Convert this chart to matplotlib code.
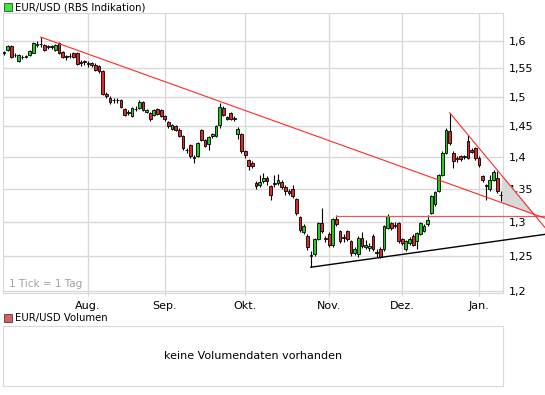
import matplotlib
matplotlib.use("Agg")
import matplotlib.pyplot as plt
from matplotlib.patches import Rectangle
from matplotlib.ticker import FixedLocator, NullLocator
import numpy as np

# Tageskerzen EUR/USD (Handelstage, Index 0 = Anfang Juli)
opens = [1.577, 1.583, 1.591, 1.574, 1.563, 1.570, 1.570, 1.574, 1.578, 1.593,
         1.594, 1.593, 1.589, 1.589, 1.584, 1.596, 1.580, 1.571, 1.572, 1.577,
         1.577, 1.560, 1.562, 1.558, 1.559, 1.557, 1.555, 1.545, 1.506, 1.499,
         1.494, 1.494, 1.495, 1.479, 1.473, 1.468, 1.479, 1.481, 1.491, 1.474,
         1.472, 1.470, 1.479, 1.478, 1.467, 1.457, 1.446, 1.450, 1.445, 1.434,
         1.411, 1.419, 1.399, 1.402, 1.444, 1.428, 1.421, 1.434, 1.435, 1.453,
         1.482, 1.466, 1.473, 1.463, 1.437, 1.438, 1.409, 1.395, 1.391, 1.359,
         1.355, 1.362, 1.367, 1.354, 1.358, 1.359, 1.361, 1.353, 1.347, 1.349,
         1.334, 1.307, 1.284, 1.279, 1.250, 1.252, 1.274, 1.298, 1.274, 1.282,
         1.266, 1.304, 1.286, 1.276, 1.286, 1.271, 1.254, 1.252, 1.276, 1.262,
         1.261, 1.279, 1.254, 1.260, 1.259, 1.291, 1.298, 1.294, 1.298, 1.274,
         1.259, 1.269, 1.279, 1.271, 1.282, 1.286, 1.296, 1.313, 1.326, 1.347,
         1.372, 1.407, 1.442, 1.407, 1.397, 1.402, 1.400, 1.426, 1.412, 1.415,
         1.399, 1.370, 1.354, 1.349, 1.364, 1.367, 1.340]
closes = [1.579, 1.591, 1.571, 1.575, 1.574, 1.571, 1.573, 1.581, 1.596, 1.594,
          1.595, 1.584, 1.590, 1.590, 1.593, 1.578, 1.571, 1.572, 1.573, 1.571,
          1.558, 1.561, 1.563, 1.559, 1.556, 1.548, 1.545, 1.506, 1.501, 1.491,
          1.495, 1.495, 1.483, 1.470, 1.474, 1.481, 1.480, 1.492, 1.478, 1.478,
          1.462, 1.478, 1.471, 1.468, 1.462, 1.450, 1.452, 1.445, 1.435, 1.415,
          1.412, 1.402, 1.400, 1.423, 1.428, 1.418, 1.433, 1.437, 1.451, 1.483,
          1.470, 1.463, 1.463, 1.464, 1.446, 1.410, 1.404, 1.385, 1.386, 1.354,
          1.360, 1.367, 1.362, 1.341, 1.359, 1.364, 1.353, 1.346, 1.344, 1.338,
          1.313, 1.288, 1.293, 1.262, 1.251, 1.274, 1.298, 1.286, 1.275, 1.266,
          1.304, 1.296, 1.271, 1.277, 1.274, 1.254, 1.259, 1.276, 1.264, 1.266,
          1.264, 1.259, 1.255, 1.248, 1.293, 1.309, 1.291, 1.295, 1.271, 1.269,
          1.271, 1.274, 1.266, 1.283, 1.298, 1.294, 1.303, 1.339, 1.345, 1.371,
          1.407, 1.445, 1.423, 1.393, 1.398, 1.397, 1.401, 1.399, 1.408, 1.399,
          1.388, 1.364, 1.355, 1.364, 1.376, 1.346, 1.341]
highs = [1.582, 1.593, 1.593, 1.577, 1.576, 1.574, 1.575, 1.583, 1.598, 1.599,
         1.607, 1.595, 1.593, 1.593, 1.595, 1.597, 1.582, 1.574, 1.578, 1.579,
         1.579, 1.565, 1.566, 1.563, 1.561, 1.559, 1.556, 1.547, 1.508, 1.501,
         1.499, 1.499, 1.497, 1.481, 1.478, 1.483, 1.484, 1.494, 1.493, 1.480,
         1.474, 1.480, 1.481, 1.480, 1.469, 1.459, 1.454, 1.452, 1.447, 1.436,
         1.415, 1.421, 1.404, 1.425, 1.446, 1.430, 1.435, 1.440, 1.453, 1.489,
         1.484, 1.468, 1.475, 1.467, 1.449, 1.440, 1.411, 1.397, 1.393, 1.362,
         1.372, 1.375, 1.370, 1.356, 1.372, 1.373, 1.363, 1.355, 1.350, 1.355,
         1.336, 1.309, 1.297, 1.281, 1.256, 1.276, 1.300, 1.321, 1.279, 1.285,
         1.306, 1.310, 1.288, 1.281, 1.288, 1.273, 1.262, 1.278, 1.285, 1.272,
         1.268, 1.281, 1.259, 1.262, 1.295, 1.311, 1.300, 1.299, 1.300, 1.276,
         1.273, 1.277, 1.282, 1.285, 1.300, 1.296, 1.310, 1.341, 1.347, 1.373,
         1.409, 1.448, 1.473, 1.409, 1.402, 1.404, 1.404, 1.436, 1.414, 1.417,
         1.401, 1.372, 1.358, 1.372, 1.380, 1.378, 1.346]
lows = [1.574, 1.581, 1.569, 1.571, 1.561, 1.567, 1.568, 1.573, 1.577, 1.589,
        1.589, 1.582, 1.585, 1.585, 1.582, 1.576, 1.568, 1.566, 1.569, 1.569,
        1.556, 1.555, 1.557, 1.553, 1.552, 1.546, 1.542, 1.504, 1.498, 1.488,
        1.490, 1.489, 1.481, 1.467, 1.469, 1.466, 1.476, 1.479, 1.476, 1.472,
        1.460, 1.468, 1.469, 1.466, 1.459, 1.447, 1.444, 1.442, 1.432, 1.412,
        1.407, 1.399, 1.390, 1.400, 1.426, 1.416, 1.411, 1.431, 1.433, 1.447,
        1.468, 1.461, 1.461, 1.460, 1.430, 1.407, 1.398, 1.380, 1.383, 1.350,
        1.352, 1.359, 1.356, 1.332, 1.352, 1.355, 1.350, 1.340, 1.341, 1.335,
        1.310, 1.285, 1.281, 1.258, 1.2335, 1.250, 1.272, 1.283, 1.270, 1.262,
        1.262, 1.293, 1.268, 1.270, 1.271, 1.250, 1.251, 1.248, 1.261, 1.259,
        1.257, 1.256, 1.248, 1.246, 1.257, 1.289, 1.288, 1.290, 1.268, 1.265,
        1.256, 1.266, 1.264, 1.260, 1.280, 1.284, 1.294, 1.311, 1.324, 1.345,
        1.370, 1.405, 1.420, 1.383, 1.392, 1.394, 1.397, 1.397, 1.406, 1.396,
        1.384, 1.361, 1.333, 1.347, 1.362, 1.344, 1.331]

month_idx = [23, 44, 66, 89, 109, 130]
month_labels = ["Aug.", "Sep.", "Okt.", "Nov.", "Dez.", "Jan."]
y_ticks = [1.2, 1.25, 1.3, 1.35, 1.4, 1.45, 1.5, 1.55, 1.6]
y_labels = ["1,2", "1,25", "1,3", "1,35", "1,4", "1,45", "1,5", "1,55", "1,6"]

# Trendlinien (Index, Kurs)
trend_long = ([10, 148.1], [1.607, 1.305])
trend_steep = ([122, 148.1], [1.473, 1.291])
resistance = ([91, 148.1], [1.309, 1.309])
support = ([84, 148.1], [1.2335, 1.281])

GRID = "#d9d9d9"
GREEN = "#22cc22"
RED = "#e02828"

fig = plt.figure(figsize=(5.45, 3.95), dpi=100)
plt.rcParams["font.family"] = ["DejaVu Sans"]

ax = fig.add_axes([3/545, 1-293/395, 500/545, 280/395])
ax.set_yscale("log")
ax.set_ylim(1.1975, 1.652)
ax.set_xlim(-0.3, 136.6)

n = len(opens)
x = np.arange(n)
o = np.array(opens); c = np.array(closes)
ax.vlines(x, lows, highs, color="black", lw=0.8, zorder=3)
cols = [GREEN if cc > oo else RED for oo, cc in zip(o, c)]
bottom = np.minimum(o, c)
height = np.maximum(np.abs(c - o), 0.0004)
ax.bar(x, height, bottom=bottom, width=0.75, color=cols, edgecolor="black",
       linewidth=0.6, zorder=4)

# Dreieck zwischen den roten Linien
k1 = np.polyfit(trend_long[0], np.log(trend_long[1]), 1)
k2 = np.polyfit(trend_steep[0], np.log(trend_steep[1]), 1)
xi = (k1[1] - k2[1]) / (k2[0] - k1[0])
xs = [136.5, 136.5, xi]
ys = [np.exp(np.polyval(k2, 136.5)), np.exp(np.polyval(k1, 136.5)), np.exp(np.polyval(k1, xi))]
ax.fill(xs, ys, color="#d8d8d8", zorder=2, clip_on=False)

ax.plot(*resistance, color="#d86060", lw=0.9, zorder=5, clip_on=False)
ax.plot(*trend_long, color="#ff2a2a", lw=0.8, zorder=5, clip_on=False)
ax.plot(*trend_steep, color="#ff2a2a", lw=0.8, zorder=5, clip_on=False)
ax.plot(*support, color="black", lw=1.0, zorder=5, clip_on=False)

ax.yaxis.set_major_locator(FixedLocator(y_ticks))
ax.yaxis.set_minor_locator(NullLocator())
ax.set_yticklabels(y_labels)
ax.yaxis.tick_right()
ax.set_xticks(month_idx)
ax.set_xticklabels(month_labels)
ax.tick_params(axis="y", length=0, pad=4, labelsize=8)
ax.tick_params(axis="x", length=2, color=GRID, pad=4, labelsize=8)
ax.grid(True, color=GRID, lw=1.0, zorder=0)
for s in ax.spines.values():
    s.set_color(GRID)
ax.text(0.012, 0.015, "1 Tick = 1 Tag", transform=ax.transAxes, color="#a0a0a0",
        fontsize=7.5, va="bottom")

# Volumen-Panel
ax2 = fig.add_axes([3/545, 1-386/395, 500/545, 60/395])
ax2.set_xticks([]); ax2.set_yticks([])
for s in ax2.spines.values():
    s.set_color(GRID)
ax2.text(0.5, 0.5, "keine Volumendaten vorhanden", ha="center", va="center",
         transform=ax2.transAxes, fontsize=8)

# Legenden oben
fig.patches.append(Rectangle((4/545, 1-11/395), 8/545, 8/395, transform=fig.transFigure,
                             facecolor="#33ee33", edgecolor="#404040", lw=0.6))
fig.text(15/545, 1-7/395, "EUR/USD (RBS Indikation)", fontsize=7.3, va="center")
fig.patches.append(Rectangle((4/545, 1-322/395), 8/545, 8/395, transform=fig.transFigure,
                             facecolor="#d86060", edgecolor="#404040", lw=0.6))
fig.text(15/545, 1-318/395, "EUR/USD Volumen", fontsize=7.3, va="center")

fig.savefig("out.png", dpi=100)
